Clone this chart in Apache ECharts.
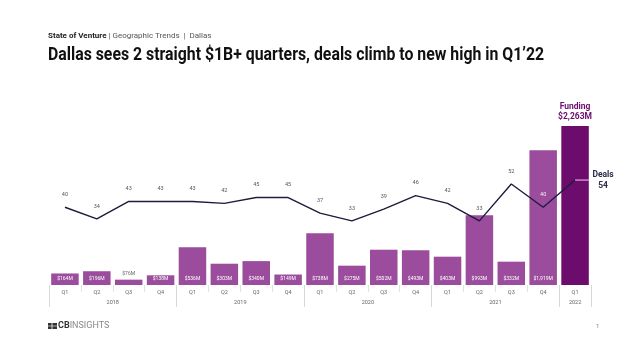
<!DOCTYPE html>
<html><head><meta charset="utf-8">
<script src="https://cdn.jsdelivr.net/npm/echarts@6/dist/echarts.min.js"></script>
<style>html,body{margin:0;padding:0;background:#fff}#c{width:638px;height:359px}</style>
</head><body><div id="c"></div>
<script>
const quarters = ['Q1','Q2','Q3','Q4','Q1','Q2','Q3','Q4','Q1','Q2','Q3','Q4','Q1','Q2','Q3','Q4','Q1'];
const years = ['2018','2019','2020','2021','2022'];
const yearCenters = [1.5, 5.5, 9.5, 13.5, 16];
const yearBounds = [-0.5, 3.5, 7.5, 11.5, 15.5, 16.5];
const funding = [164, 196, 76, 138, 536, 303, 340, 149, 738, 275, 502, 493, 403, 993, 332, 1919, 2263];
const deals = [40, 34, 43, 43, 43, 42, 45, 45, 37, 33, 39, 46, 42, 33, 52, 40, 54];

const FONT = "Roboto, sans-serif";
const chart = echarts.init(document.getElementById('c'), null, {renderer:'canvas'});
const last = funding.length - 1;

const barData = funding.map((v, i) => {
  const d = {value: v, itemStyle: {color: i === last ? '#6c0c6c' : '#9b4c9c'}};
  if (i === last) {
    d.label = {show: true, position: 'top', distance: 4, color: '#6c0c6c', fontWeight: 'bold',
      fontSize: 8.5, lineHeight: 10, fontFamily: FONT, formatter: 'Funding\n$2,263M'};
  } else if (v < 100) {
    d.label = {show: true, position: 'top', distance: 3, color: '#666', fontSize: 5, fontFamily: FONT};
  }
  return d;
});

const lineData = deals.map((v, i) => {
  const d = {value: v};
  if (i === last) d.label = {show: false};
  if (i === 15) d.label = {color: '#eee'};
  return d;
});

chart.setOption({
  animation: false,
  textStyle: {fontFamily: FONT},
  grid: {left: 49, right: 47, top: 100, bottom: 74},
  xAxis: [
    {type: 'category', data: quarters, position: 'bottom',
     axisLine: {show: false},
     axisTick: {show: true, length: 7, lineStyle: {color: '#e2e2e2'}},
     axisLabel: {color: '#666', fontSize: 5.5, margin: 5, fontFamily: FONT}},
    {type: 'value', min: -0.5, max: 16.5, position: 'bottom',
     splitLine: {show: false}, axisLine: {show: false},
     axisTick: {show: true, customValues: yearBounds, length: 22, lineStyle: {color: '#d8d8d8'}},
     axisLabel: {customValues: yearCenters, color: '#666', fontSize: 5.5, margin: 15, fontFamily: FONT,
       formatter: v => years[yearCenters.indexOf(v)]}}
  ],
  yAxis: [
    {type: 'value', min: 0, max: 2633, show: false, splitLine: {show: false}},
    {type: 'value', min: 0, max: 95.2, show: false, splitLine: {show: false}}
  ],
  series: [
    {type: 'bar', data: barData, barWidth: 27.5, xAxisIndex: 0, yAxisIndex: 0,
     label: {show: true, position: 'insideBottom', distance: 4, color: '#fff', fontSize: 5, fontFamily: FONT,
       formatter: p => '$' + p.value.toLocaleString('en-US') + 'M'}},
    {type: 'line', data: lineData, xAxisIndex: 0, yAxisIndex: 1, showSymbol: true, symbol: 'circle', symbolSize: 1,
     itemStyle: {color: 'rgba(0,0,0,0)'},
     lineStyle: {color: '#1c1c3c', width: 1.4}, z: 5,
     label: {show: true, position: 'top', distance: 9, color: '#555', fontSize: 5.5, fontFamily: FONT},
     labelLayout: {hideOverlap: false}}
  ]
});

const p = chart.convertToPixel({xAxisIndex: 0, yAxisIndex: 1}, [last, deals[last]]);
chart.setOption({
  graphic: [
    {type: 'text', left: 48, top: 32, style: {rich: {b: {fontWeight: 'bold', fontSize: 8, fill: '#222', fontFamily: FONT}, n: {fontSize: 8, fill: '#555', fontFamily: FONT}},
      text: '{b|State of Venture}{n| | Geographic Trends  |  Dallas}'}},
    {type: 'text', x: 48, y: 47, scaleX: 0.905, style: {text: 'Dallas sees 2 straight $1B+ quarters, deals climb to new high in Q1\u201922', fontSize: 17.5, fontWeight: 'bold', fill: '#111', fontFamily: FONT}},
    {type: 'line', shape: {x1: p[0], y1: p[1], x2: p[0] + 14, y2: p[1]}, style: {stroke: '#e4a8d8', lineWidth: 1.2}, z: 10},
    {type: 'text', x: p[0] + 28, y: p[1] - 11, style: {text: 'Deals\n54', fontSize: 8.5, lineHeight: 11, fontWeight: 'bold', fill: '#2a2a4a', align: 'center', fontFamily: FONT}, z: 10},
    {type: 'rect', shape: {x: 48, y: 323, width: 9, height: 6}, style: {fill: '#333'}},
    {type: 'line', shape: {x1: 52, y1: 323, x2: 52, y2: 329}, style: {stroke: '#fff', lineWidth: 0.8}},
    {type: 'line', shape: {x1: 48, y1: 326, x2: 57, y2: 326}, style: {stroke: '#fff', lineWidth: 0.6}},
    {type: 'text', left: 58, top: 321, style: {rich: {b: {fontWeight: 'bold', fontSize: 9, fill: '#333', fontFamily: FONT}, n: {fontSize: 9, fill: '#888', fontFamily: FONT}}, text: '{b|CB}{n|INSIGHTS}'}},
    {type: 'text', left: 596, top: 323, style: {text: '1', fontSize: 6, fill: '#888', fontFamily: FONT}}
  ]
});
</script></body></html>
